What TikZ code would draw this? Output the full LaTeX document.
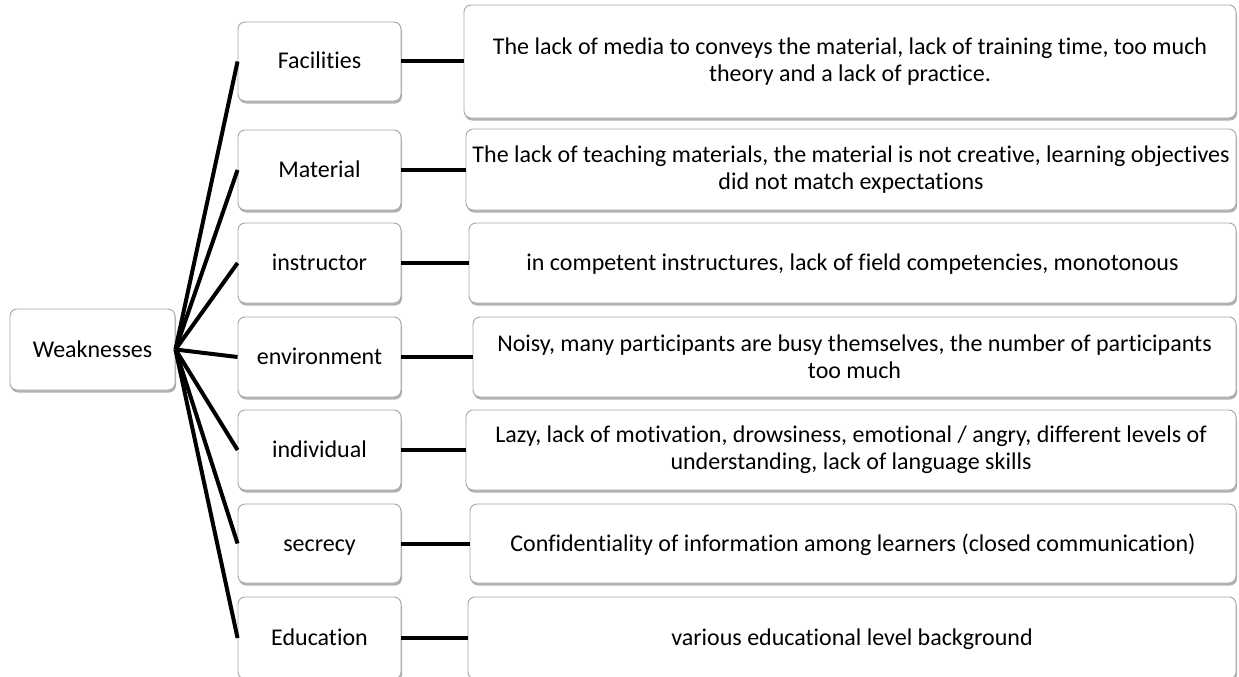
\documentclass[tikz,border=0pt]{standalone}
\usepackage{fontspec}
\setmainfont{Carlito}[Ligatures=NoCommon]
\usetikzlibrary{shadows}
\begin{document}
\begin{tikzpicture}[x=1pt,y=-1pt,
  box/.style={draw=black!35, line width=0.9pt, rounded corners=7pt, fill=white,
    drop shadow={shadow xshift=1pt, shadow yshift=-2.5pt, fill=black, opacity=0.3},
    inner sep=0pt, align=center, text=black, font=\fontsize{24}{27}\selectfont},
  one/.style={text height=20pt, text depth=5pt},
  lbox/.style={box, one, minimum width=163pt, minimum height=80pt},
  conn/.style={line width=4pt, black}]
\useasboundingbox (0,0) rectangle (1239,677);
\begin{scope}
\clip (0,0) rectangle (1239,677);
% root
\node[box, one, minimum width=165pt, minimum height=81pt] (root) at (92.5,349.5) {Weaknesses};
% left column
\node[lbox, minimum height=79pt] (l1) at (319.5,61.5) {Facilities};
\node[lbox] (l2) at (319.5,170) {Material};
\node[lbox] (l3) at (319.5,263) {instructor};
\node[lbox] (l4) at (319.5,357) {environment};
\node[lbox] (l5) at (319.5,450) {individual};
\node[lbox, minimum height=79pt] (l6) at (319.5,543.5) {secrecy};
\node[lbox, minimum height=82pt] (l7) at (319.5,638) {Education};
% right column
\node[box, minimum width=772pt, minimum height=113pt] (r1) at (850,61.5)
  {The lack of media to conveys the material, lack of training time, too much\\theory and a lack of practice.};
\node[box, minimum width=770pt, minimum height=81pt] (r2) at (851,169.5)
  {The lack of teaching materials, the material is not creative, learning objectives\\did not match expectations};
\node[box, one, minimum width=767pt, minimum height=80pt] (r3) at (852.5,263)
  {in competent instructures, lack of field competencies, monotonous};
\node[box, minimum width=763pt, minimum height=80pt] (r4) at (854.5,357)
  {Noisy, many participants are busy themselves, the number of participants\\too much};
\node[box, minimum width=770pt, minimum height=80pt] (r5) at (851,450)
  {Lazy, lack of motivation, drowsiness, emotional / angry, different levels of\\understanding, lack of language skills};
\node[box, one, minimum width=766pt, minimum height=79pt] (r6) at (853,543.5)
  {Confidentiality of information among learners (closed communication)};
\node[box, one, minimum width=768pt, minimum height=82pt] (r7) at (852,638)
  {various educational level background};
% connectors
\foreach \i in {1,...,7} {
  \draw[conn] (root.east) -- (l\i.west);
  \draw[conn] (l\i.east) -- (r\i.west |- l\i.east);
}
\end{scope}
\end{tikzpicture}
\end{document}
